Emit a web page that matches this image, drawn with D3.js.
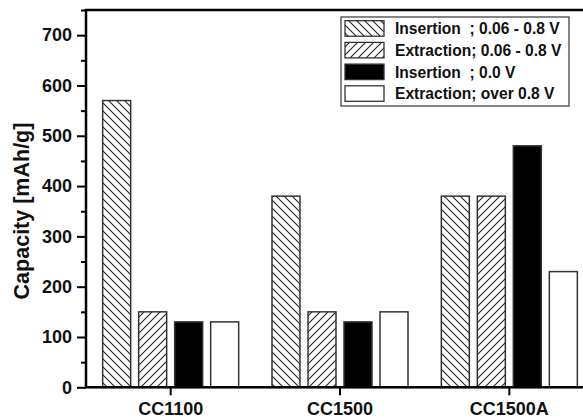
<!DOCTYPE html>
<html>
<head>
<meta charset="utf-8">
<script src="https://cdn.jsdelivr.net/npm/d3@7"></script>
<style>
  body { margin: 0; background: #fff; }
  svg { display: block; font-family: "Liberation Sans", Arial, sans-serif; font-weight: bold; }
</style>
</head>
<body>
<svg id="chart" width="583" height="418"></svg>
<script>
// Datos
const samples = ['CC1100', 'CC1500', 'CC1500A'];
const seriesNames = ['Insertion  ; 0.06 - 0.8 V', 'Extraction; 0.06 - 0.8 V', 'Insertion  ; 0.0 V', 'Extraction; over 0.8 V'];
const insertionHatch = [570, 380, 380];
const extractionHatch = [150, 150, 380];
const insertionZero = [130, 130, 480];
const extractionOver = [130, 150, 230];
const yTicks = [0, 100, 200, 300, 400, 500, 600, 700];
const yMinor = [50, 150, 250, 350, 450, 550, 650, 750];

const allSeries = [insertionHatch, extractionHatch, insertionZero, extractionOver];
const fills = ['url(#hatch-back)', 'url(#hatch-fwd)', '#000', '#fff'];

const svg = d3.select('#chart');
const m = { l: 86, t: 10, r: 594, b: 387.3 };
const font = '"Liberation Sans", Arial, sans-serif';

// Patrones de rayado
const defs = svg.append('defs');
defs.append('pattern')
    .attr('id', 'hatch-back')
    .attr('patternUnits', 'userSpaceOnUse')
    .attr('width', 8).attr('height', 8)
    .call(p => {
        p.append('rect').attr('width', 8).attr('height', 8).attr('fill', '#fff');
        p.append('path').attr('d', 'M0,0L8,8M-2,6L2,10M6,-2L10,2')
            .attr('stroke', '#222').attr('stroke-width', 1.1);
    });
defs.append('pattern')
    .attr('id', 'hatch-fwd')
    .attr('patternUnits', 'userSpaceOnUse')
    .attr('width', 8).attr('height', 8)
    .call(p => {
        p.append('rect').attr('width', 8).attr('height', 8).attr('fill', '#fff');
        p.append('path').attr('d', 'M0,8L8,0M-2,2L2,-2M6,10L10,6')
            .attr('stroke', '#222').attr('stroke-width', 1.1);
    });

// Escalas
const x = d3.scaleBand().domain(samples).range([m.l, m.r]).padding(0);
const xi = d3.scaleBand().domain(d3.range(4)).range([-72, 72]).paddingInner(8 / 36).paddingOuter(4 / 36);
const y = d3.scaleLinear().domain([0, 750]).range([m.b, m.t]);

// Barras
allSeries.forEach((vals, s) => {
    svg.append('g').selectAll('rect')
        .data(vals)
        .join('rect')
        .attr('x', (d, i) => x(samples[i]) + x.bandwidth() / 2 + xi(s))
        .attr('y', d => y(d))
        .attr('width', xi.bandwidth())
        .attr('height', d => y(0) - y(d))
        .attr('fill', fills[s])
        .attr('stroke', '#333')
        .attr('stroke-width', 1.5);
});

// Ejes
const yAxis = svg.append('g').attr('transform', `translate(${m.l},0)`)
    .call(d3.axisLeft(y).tickValues(yTicks).tickSize(9).tickPadding(5));
yAxis.select('.domain').remove();
yAxis.selectAll('.tick line').attr('stroke-width', 2);
yAxis.selectAll('.tick text').attr('font-size', 18).attr('font-family', font).attr('font-weight', 'bold').attr('fill', '#111');

const yMinorAxis = svg.append('g').attr('transform', `translate(${m.l},0)`)
    .call(d3.axisLeft(y).tickValues(yMinor).tickSize(5).tickFormat(''));
yMinorAxis.select('.domain').remove();
yMinorAxis.selectAll('.tick line').attr('stroke-width', 2);

const xAxis = svg.append('g').attr('transform', `translate(0,${m.b})`)
    .call(d3.axisBottom(x).tickSize(8).tickPadding(6.5));
xAxis.select('.domain').remove();
xAxis.selectAll('.tick line').attr('stroke-width', 2);
xAxis.selectAll('.tick text').attr('font-size', 18).attr('font-family', font).attr('font-weight', 'bold').attr('fill', '#111');

// Marco
svg.append('rect')
    .attr('x', m.l).attr('y', m.t)
    .attr('width', m.r - m.l).attr('height', m.b - m.t)
    .attr('fill', 'none').attr('stroke', '#000').attr('stroke-width', 2.5);

// Título del eje Y
svg.append('text')
    .attr('transform', `translate(29,211) rotate(-90)`)
    .attr('text-anchor', 'middle')
    .attr('font-size', 21.5)
    .attr('fill', '#111')
    .text('Capacity [mAh/g]');

// Leyenda
const lg = svg.append('g');
lg.append('rect')
    .attr('x', 341).attr('y', 17).attr('width', 228).attr('height', 89)
    .attr('fill', '#fff').attr('stroke', '#444').attr('stroke-width', 1.3);
seriesNames.forEach((name, s) => {
    const ry = 20.7 + s * 21.7;
    lg.append('rect')
        .attr('x', 345).attr('y', ry).attr('width', 39).attr('height', 15.5)
        .attr('fill', fills[s]).attr('stroke', '#333').attr('stroke-width', 1.3);
    lg.append('text')
        .attr('x', 395).attr('y', ry + 13.5)
        .attr('font-size', 15.6)
        .attr('fill', '#111')
        .style('white-space', 'pre')
        .text(name);
});
</script>
</body>
</html>
